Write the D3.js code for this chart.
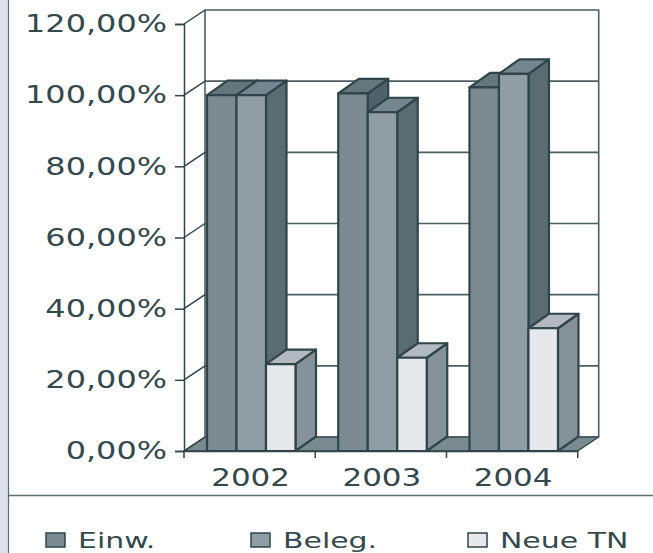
<!DOCTYPE html>
<html>
<head>
<meta charset="utf-8">
<script src="https://cdn.jsdelivr.net/npm/d3@7"></script>
<style>
  html, body { margin: 0; padding: 0; background: #fff; }
  text { font-family: "DejaVu Sans", sans-serif; fill: #33494d; }
</style>
</head>
<body>
<div id="chart"></div>
<script>
const years = ["2002", "2003", "2004"]
const seriesNames = ["Einw.", "Beleg.", "Neue TN"]
const einw = [100, 100.5, 102.2]
const beleg = [100, 95.2, 106]
const neueTn = [24.4, 26.2, 34.5]
const yTicks = [0, 20, 40, 60, 80, 100, 120]

const width = 653
const height = 553
const ink = "#2f4549"
const depth = { x: 21, y: -14 }
const barDepth = { x: 20.5, y: -14.5 }
const fontSize = 24
const textStretch = 1.33
const legendFontSize = 22
const legendStretch = 1.36

// front face colour, top colour, side colour per series
const faces = [
  { front: "#7b8991", top: "#65767d", side: "#4f6269" },
  { front: "#919da5", top: "#76868e", side: "#5a6b72" },
  { front: "#e6e8eb", top: "#b2bac0", side: "#85929a" }
]

const svg = d3.select("#chart").append("svg")
  .attr("width", width)
  .attr("height", height)
  .style("display", "block")

// left strip of the page and the rule over the legend
svg.append("rect").attr("width", 8).attr("height", height).attr("fill", "#dde1ea")
svg.append("line").attr("x1", 8.5).attr("x2", 8.5).attr("y1", 0).attr("y2", height)
  .attr("stroke", "#5c6e73").attr("stroke-width", 1.2)
svg.append("line").attr("x1", 8).attr("x2", width).attr("y1", 495.5).attr("y2", 495.5)
  .attr("stroke", "#5c6e73").attr("stroke-width", 1.5)

const x = d3.scaleBand().domain(years).range([184, 577.7])
const y = d3.scaleLinear().domain([0, 120]).range([451, 24])

const seriesX = d3.scaleBand().domain(d3.range(3))
  .range([23, 111.5])

const plot = svg.append("g")
  .attr("fill", "none")
  .attr("stroke", ink)
  .attr("stroke-linejoin", "round")

const poly = pts => pts.map(p => p.join(",")).join(" ")

// floor
plot.append("polygon")
  .attr("points", poly([
    [x.range()[0], y(0)], [x.range()[1], y(0)],
    [x.range()[1] + depth.x, y(0) + depth.y], [x.range()[0] + depth.x, y(0) + depth.y]
  ]))
  .attr("fill", "#7b8991").attr("stroke-width", 1.5)

// back wall, gridlines and their slants on the side wall
plot.append("rect")
  .attr("x", x.range()[0] + depth.x)
  .attr("y", y(120) + depth.y)
  .attr("width", x.range()[1] - x.range()[0])
  .attr("height", y(0) - y(120))
  .attr("stroke", "#4a5e63")
  .attr("stroke-width", 1.6)

plot.selectAll(".grid").data(yTicks.slice(1, -1)).enter().append("line")
  .attr("class", "grid")
  .attr("x1", x.range()[0] + depth.x)
  .attr("x2", x.range()[1] + depth.x)
  .attr("y1", d => y(d) + depth.y)
  .attr("y2", d => y(d) + depth.y)
  .attr("stroke", "#4a5e63")
  .attr("stroke-width", 1.6)

plot.selectAll(".slant").data(yTicks).enter().append("line")
  .attr("class", "slant")
  .attr("x1", x.range()[0])
  .attr("x2", x.range()[0] + depth.x)
  .attr("y1", d => y(d))
  .attr("y2", d => y(d) + depth.y)
  .attr("stroke-width", 1.5)

// bars, drawn left to right so the nearer box overlaps the previous one
const rows = [einw, beleg, neueTn]
years.forEach((year, i) => {
  rows.forEach((row, s) => {
    const x0 = x(year) + seriesX(s)
    const x1 = x0 + seriesX.bandwidth()
    const top = y(row[i])
    const base = y(0)
    const bar = plot.append("g").attr("stroke-width", 2.2)
    bar.append("polygon")
      .attr("points", poly([[x1, base], [x1 + barDepth.x, base + barDepth.y], [x1 + barDepth.x, top + barDepth.y], [x1, top]]))
      .attr("fill", faces[s].side)
    bar.append("polygon")
      .attr("points", poly([[x0, top], [x0 + barDepth.x, top + barDepth.y], [x1 + barDepth.x, top + barDepth.y], [x1, top]]))
      .attr("fill", faces[s].top)
    bar.append("rect")
      .attr("x", x0).attr("y", top)
      .attr("width", x1 - x0).attr("height", base - top)
      .attr("fill", faces[s].front)
  })
})

// axes
const yAxis = svg.append("g")
  .attr("transform", `translate(${x.range()[0]},0)`)
  .call(d3.axisLeft(y).tickValues(yTicks).tickSize(9).tickPadding(7)
    .tickFormat(d => d3.format(".2f")(d).replace(".", ",") + "%"))
yAxis.selectAll("path, line").attr("stroke", ink).attr("stroke-width", 1.5)
yAxis.selectAll("text")
  .attr("font-size", fontSize)
  .attr("font-family", "DejaVu Sans")
  .attr("fill", "#33494d")
  .attr("x", -17 / textStretch)
  .attr("transform", `scale(${textStretch},1)`)

const xAxis = svg.append("g")
  .attr("transform", `translate(0,${y(0)})`)
  .call(d3.axisBottom(x).tickSize(0).tickPadding(18))
xAxis.select("path").attr("stroke", ink).attr("stroke-width", 1.5)
xAxis.selectAll("text")
  .attr("font-size", fontSize)
  .attr("font-family", "DejaVu Sans")
  .attr("fill", "#33494d")
  .attr("transform", `translate(1,0) scale(${textStretch * 0.97},1)`)

xAxis.selectAll(".edge").data(d3.range(4)).enter().append("line")
  .attr("class", "edge")
  .attr("x1", d => x.range()[0] + d * x.step())
  .attr("x2", d => x.range()[0] + d * x.step())
  .attr("y1", 0).attr("y2", 7)
  .attr("stroke", ink).attr("stroke-width", 1.5)

// legend
const legendX = [46, 251, 468]
const legend = svg.selectAll(".legend").data(seriesNames).enter().append("g")
  .attr("class", "legend")
  .attr("transform", (d, i) => `translate(${legendX[i]},533)`)
legend.append("rect")
  .attr("width", 19).attr("height", 14)
  .attr("fill", (d, i) => faces[i].front)
  .attr("stroke", ink).attr("stroke-width", 1.5)
legend.append("text")
  .attr("x", 32 / legendStretch)
  .attr("y", 15)
  .attr("font-size", legendFontSize)
  .attr("transform", `scale(${legendStretch},1)`)
  .text(d => d)
</script>
</body>
</html>
